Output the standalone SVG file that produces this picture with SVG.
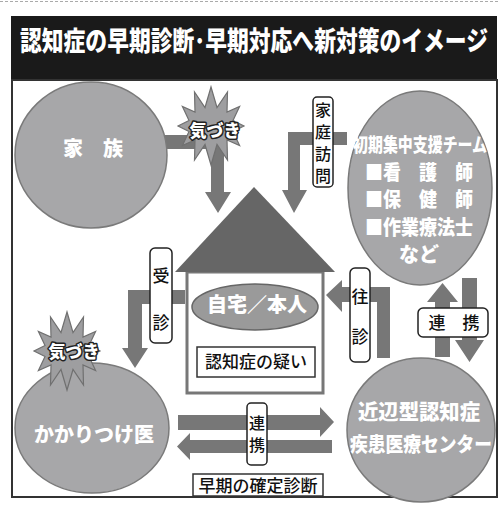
<svg xmlns="http://www.w3.org/2000/svg" width="499" height="525" viewBox="0 0 499 525">
<style>
text{font-family:"Noto Sans CJK JP","Noto Sans CJK SC",sans-serif;}
.bg{fill:#ffffff;}
.circ{fill:#a7a7a9;stroke:#7a7a7a;stroke-width:1.5;}
.arrow{fill:#777777;}
.wt{fill:#ffffff;font-weight:900;text-anchor:middle;}
.bk{fill:#111111;font-weight:500;text-anchor:middle;}
.lbl{fill:#ffffff;stroke:#222222;stroke-width:1.5;}
.box{fill:#ffffff;stroke:#333333;stroke-width:1.5;}
.star{fill:#9e9ea0;stroke:#707070;stroke-width:1.2;}
.st{fill:#ffffff;stroke:#222222;stroke-width:3;paint-order:stroke;stroke-linejoin:round;font-weight:900;text-anchor:middle;font-size:17px;}
</style>
<defs>
<path id="burst" d="M33,0 L22,5.5 L28.6,19.5 L16,14 L16.5,34 L6,18.5 L0,39 L-6,18.5 L-16.5,34 L-16,14 L-28.6,19.5 L-22,5.5 L-33,0 L-22,-5.5 L-28.6,-19.5 L-16,-14 L-16.5,-34 L-6,-18.5 L0,-39 L6,-18.5 L16.5,-34 L16,-14 L28.6,-19.5 L22,-5.5 Z"/>
</defs>
<rect class="bg" x="0" y="0" width="499" height="525"/>
<line x1="0" y1="1.5" x2="499" y2="1.5" stroke="#aaaaaa" stroke-width="1" stroke-dasharray="3 2"/>

<g id="title">
<rect x="11" y="16" width="486" height="64" fill="#1a1a1a"/>
<text x="254" y="51" class="wt" font-size="27" textLength="468" lengthAdjust="spacingAndGlyphs">認知症の早期診断･早期対応へ新対策のイメージ</text>
</g>

<rect x="12" y="80" width="485" height="417" fill="none" stroke="#333333" stroke-width="2"/>

<g id="connectors">
<path class="arrow" d="M165,135 L224,135 L224,192 L231,192 L218,213 L205,192 L211,192 L211,149 L165,149 Z"/>
<path class="arrow" d="M347,132 L347,145 L300,145 L300,190 L307,190 L294,213 L282,190 L288,190 L288,132 Z"/>
<path class="arrow" d="M185,290 L185,304 L142,304 L142,348 L148,348 L135,368 L122,348 L128,348 L128,290 Z"/>
<path class="arrow" d="M390,358 L377,358 L377,302 L342,302 L342,312 L326,295 L342,280 L342,287 L390,287 Z"/>
<path class="arrow" d="M435,357 L435,302 L427,302 L442.5,283 L458,302 L450,302 L450,357 Z"/>
<path class="arrow" d="M462,278 L477,278 L477,340 L484,340 L469.5,362 L455,340 L462,340 Z"/>
<path class="arrow" d="M178,415 L320,415 L320,407 L334,422 L320,437 L320,430 L178,430 Z"/>
<path class="arrow" d="M332,440 L190,440 L190,433 L177,446.5 L190,460 L190,453 L332,453 Z"/>
</g>

<g id="family">
<ellipse class="circ" cx="91" cy="155" rx="76" ry="73"/>
<text x="93" y="156" class="wt" font-size="20">家　族</text>
</g>

<g id="kizuki1">
<use href="#burst" class="star" transform="translate(211,126)"/>
<text x="215" y="137" class="st">気づき</text>
</g>

<g id="team">
<ellipse class="circ" cx="420" cy="188" rx="72" ry="97"/>
<text x="420" y="152" class="wt" font-size="19" textLength="134" lengthAdjust="spacingAndGlyphs">初期集中支援チーム</text>
<text x="419" y="180" class="wt" font-size="20" textLength="108" lengthAdjust="spacingAndGlyphs">■看　護　師</text>
<text x="419" y="207" class="wt" font-size="20" textLength="108" lengthAdjust="spacingAndGlyphs">■保　健　師</text>
<text x="419" y="235" class="wt" font-size="20" textLength="108" lengthAdjust="spacingAndGlyphs">■作業療法士</text>
<text x="419" y="262" class="wt" font-size="20">など</text>
</g>

<g id="house">
<rect x="187" y="272" width="136" height="121" fill="#ffffff" stroke="#777777" stroke-width="3"/>
<polygon points="175,272 254,187 335,272" fill="#666666"/>
<ellipse cx="255" cy="307" rx="63" ry="23" fill="#9a9a9a" stroke="#666666" stroke-width="1.5"/>
<text x="257" y="312" class="wt" font-size="20">自宅／本人</text>
<rect class="box" x="197" y="347" width="118" height="30"/>
<text x="256" y="368" class="bk" font-size="17">認知症の疑い</text>
</g>

<g id="doctor">
<ellipse class="circ" cx="92" cy="428" rx="77" ry="65"/>
<text x="94" y="442" class="wt" font-size="20">かかりつけ医</text>
</g>

<g id="kizuki2">
<use href="#burst" class="star" transform="translate(67,351)"/>
<text x="74" y="358" class="st">気づき</text>
</g>

<g id="center">
<ellipse class="circ" cx="421" cy="430" rx="74" ry="72"/>
<text x="419" y="419" class="wt" font-size="21" textLength="122" lengthAdjust="spacingAndGlyphs">近辺型認知症</text>
<text x="421" y="452" class="wt" font-size="20" textLength="142" lengthAdjust="spacingAndGlyphs">疾患医療センター</text>
</g>

<g id="label-houmon">
<rect class="lbl" x="313" y="97" width="20" height="90" rx="4"/>
<text x="323" y="116" class="bk" font-size="16">家</text>
<text x="323" y="138" class="bk" font-size="16">庭</text>
<text x="323" y="160" class="bk" font-size="16">訪</text>
<text x="323" y="182" class="bk" font-size="16">問</text>
</g>

<g id="label-jushin">
<rect class="lbl" x="150" y="248" width="22" height="95" rx="5"/>
<text x="161" y="282" class="bk" font-size="17">受</text>
<text x="161" y="329" class="bk" font-size="17">診</text>
</g>

<g id="label-oushin">
<rect class="lbl" x="350" y="268" width="20" height="94" rx="5"/>
<text x="360" y="303" class="bk" font-size="17">往</text>
<text x="360" y="343" class="bk" font-size="17">診</text>
</g>

<g id="label-renkei1">
<rect class="lbl" x="418" y="308" width="70" height="29" rx="5"/>
<text x="454" y="329" class="bk" font-size="17">連　携</text>
</g>

<g id="label-renkei2">
<rect class="lbl" x="247" y="403" width="20" height="62" rx="4"/>
<text x="257" y="429" class="bk" font-size="16">連</text>
<text x="257" y="451" class="bk" font-size="16">携</text>
</g>

<g id="kakutei">
<rect class="box" x="193" y="474" width="130" height="22"/>
<text x="258" y="492" class="bk" font-size="17">早期の確定診断</text>
</g>
</svg>
